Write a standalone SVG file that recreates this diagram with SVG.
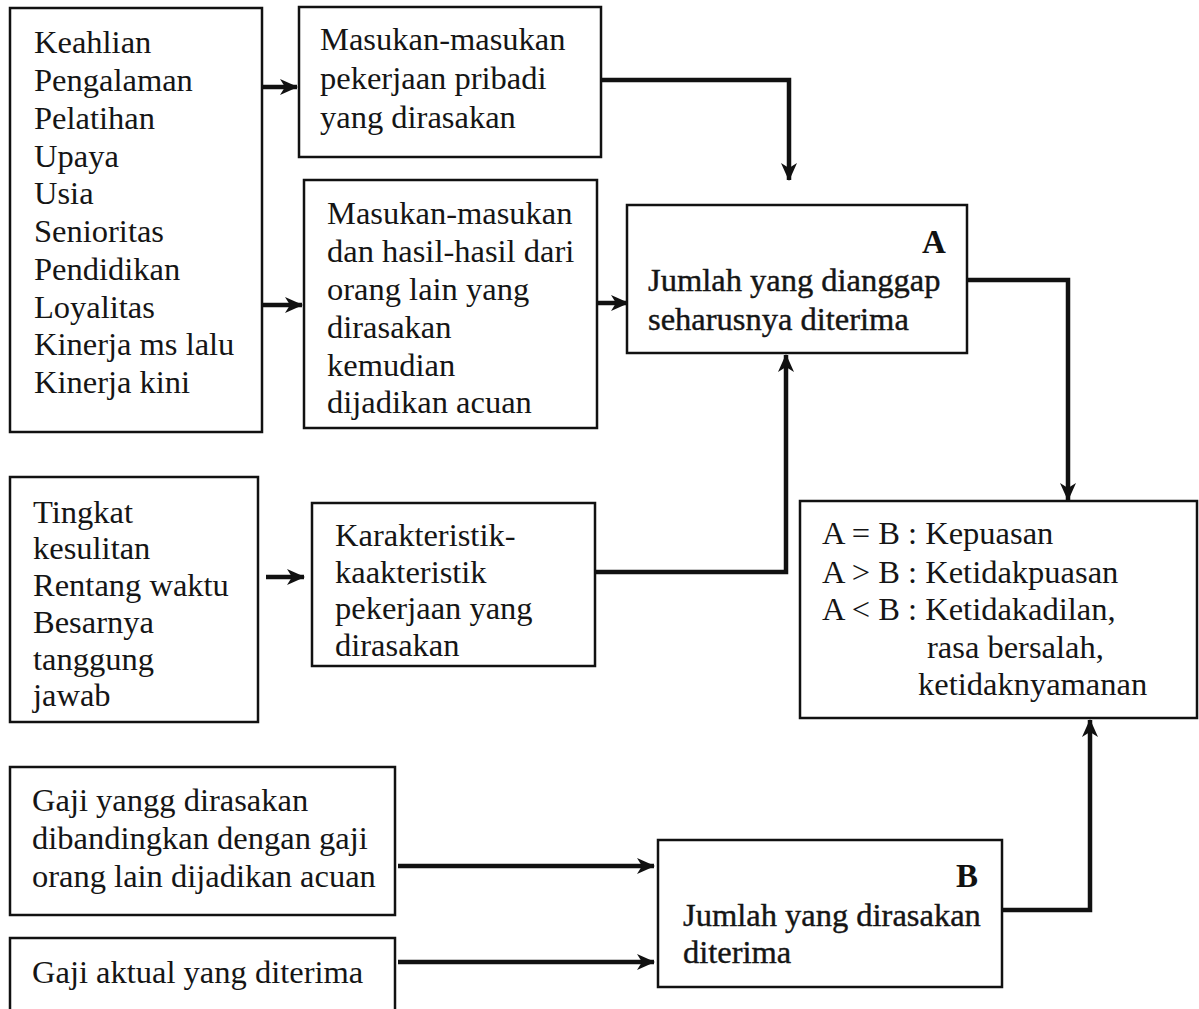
<svg xmlns="http://www.w3.org/2000/svg" width="1199" height="1009" viewBox="0 0 1199 1009">
  <style>
    .box { fill: #ffffff; stroke: #111111; stroke-width: 2.5; }
    .t { font-family: "Liberation Serif", "Times New Roman", serif; font-size: 32.5px; fill: #151515; }
    .h { font-family: "Liberation Serif", "Times New Roman", serif; font-size: 32.5px; fill: #151515; stroke: #151515; stroke-width: 0.4; }
    .lbl { font-family: "Liberation Serif", "Times New Roman", serif; font-size: 33px; font-weight: bold; fill: #111111; }
    .con { fill: none; stroke: #111111; stroke-width: 4.5; stroke-linejoin: miter; }
  </style>
  <defs>
    <marker id="arrow" viewBox="0 0 18 16" refX="17" refY="8" markerWidth="18" markerHeight="16" markerUnits="userSpaceOnUse" orient="auto">
      <path d="M0,0 L18,8 L0,16 L5,8 Z" fill="#111111"/>
    </marker>
  </defs>
  <rect width="1199" height="1009" fill="#ffffff"/>

  <!-- connectors -->
  <g id="connectors">
    <path class="con" d="M263,87 H297" marker-end="url(#arrow)"/>
    <path class="con" d="M263,305 H302" marker-end="url(#arrow)"/>
    <path class="con" d="M601,80 H789 V180" marker-end="url(#arrow)"/>
    <path class="con" d="M597,303 H628" marker-end="url(#arrow)"/>
    <path class="con" d="M595,572 H786 V355" marker-end="url(#arrow)"/>
    <path class="con" d="M266,577 H304" marker-end="url(#arrow)"/>
    <path class="con" d="M967,280 H1068 V500" marker-end="url(#arrow)"/>
    <path class="con" d="M398,866 H654" marker-end="url(#arrow)"/>
    <path class="con" d="M398,962 H654" marker-end="url(#arrow)"/>
    <path class="con" d="M1002,910 H1090 V720" marker-end="url(#arrow)"/>
  </g>

  <!-- input factors -->
  <g id="faktor-masukan">
    <rect class="box" x="10" y="8" width="252" height="424"/>
    <text class="t" x="34" y="53">Keahlian</text>
    <text class="t" x="34" y="91">Pengalaman</text>
    <text class="t" x="34" y="129">Pelatihan</text>
    <text class="t" x="34" y="167">Upaya</text>
    <text class="t" x="34" y="204">Usia</text>
    <text class="t" x="34" y="242">Senioritas</text>
    <text class="t" x="34" y="280">Pendidikan</text>
    <text class="t" x="34" y="318">Loyalitas</text>
    <text class="t" x="34" y="355">Kinerja ms lalu</text>
    <text class="t" x="34" y="393">Kinerja kini</text>
  </g>

  <g id="masukan-pribadi">
    <rect class="box" x="299" y="7" width="302" height="150"/>
    <text class="t" x="320" y="50">Masukan-masukan</text>
    <text class="t" x="320" y="89">pekerjaan pribadi</text>
    <text class="t" x="320" y="128">yang dirasakan</text>
  </g>

  <g id="masukan-orang-lain">
    <rect class="box" x="304" y="180" width="293" height="248"/>
    <text class="t" x="327" y="224">Masukan-masukan</text>
    <text class="t" x="327" y="262">dan hasil-hasil dari</text>
    <text class="t" x="327" y="300">orang lain yang</text>
    <text class="t" x="327" y="338">dirasakan</text>
    <text class="t" x="327" y="376">kemudian</text>
    <text class="t" x="327" y="413">dijadikan acuan</text>
  </g>

  <g id="node-a">
    <rect class="box" x="627" y="205" width="340" height="148"/>
    <text class="lbl" x="922" y="253">A</text>
    <text class="h" x="648" y="291">Jumlah yang dianggap</text>
    <text class="h" x="648" y="330">seharusnya diterima</text>
  </g>

  <g id="faktor-pekerjaan">
    <rect class="box" x="10" y="477" width="248" height="245"/>
    <text class="t" x="33" y="523">Tingkat</text>
    <text class="t" x="33" y="559">kesulitan</text>
    <text class="t" x="33" y="596">Rentang waktu</text>
    <text class="t" x="33" y="633">Besarnya</text>
    <text class="t" x="33" y="670">tanggung</text>
    <text class="t" x="33" y="706">jawab</text>
  </g>

  <g id="karakteristik">
    <rect class="box" x="312" y="503" width="283" height="163"/>
    <text class="t" x="335" y="546">Karakteristik-</text>
    <text class="t" x="335" y="583">kaakteristik</text>
    <text class="t" x="335" y="619">pekerjaan yang</text>
    <text class="t" x="335" y="656">dirasakan</text>
  </g>

  <g id="hasil">
    <rect class="box" x="800" y="501" width="397" height="217"/>
    <text class="t" x="822" y="544">A = B : Kepuasan</text>
    <text class="t" x="822" y="583">A &gt; B : Ketidakpuasan</text>
    <text class="t" x="822" y="620">A &lt; B : Ketidakadilan,</text>
    <text class="t" x="927" y="658">rasa bersalah,</text>
    <text class="t" x="918" y="695">ketidaknyamanan</text>
  </g>

  <g id="gaji-acuan">
    <rect class="box" x="10" y="767" width="385" height="148"/>
    <text class="t" x="32" y="811">Gaji yangg dirasakan</text>
    <text class="t" x="32" y="849">dibandingkan dengan gaji</text>
    <text class="t" x="32" y="887">orang lain dijadikan acuan</text>
  </g>

  <g id="gaji-aktual">
    <rect class="box" x="10" y="938" width="385" height="90"/>
    <text class="t" x="32" y="983">Gaji aktual yang diterima</text>
  </g>

  <g id="node-b">
    <rect class="box" x="658" y="840" width="344" height="147"/>
    <text class="lbl" x="956" y="887">B</text>
    <text class="h" x="683" y="926">Jumlah yang dirasakan</text>
    <text class="h" x="683" y="963">diterima</text>
  </g>
</svg>
